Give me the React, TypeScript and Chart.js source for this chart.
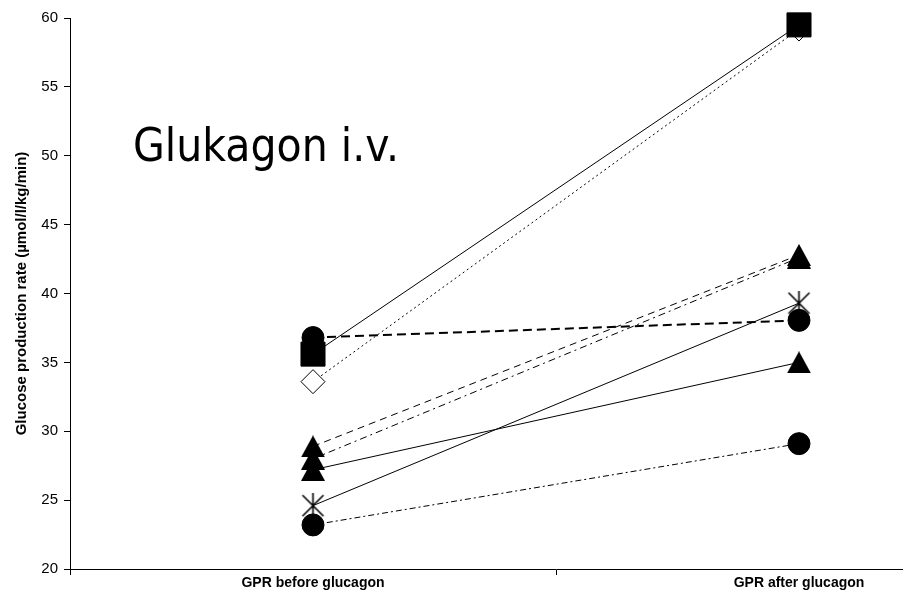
import React, { useEffect, useRef } from 'react';
import { Chart, registerables } from 'chart.js';

Chart.register(...registerables);

// ---- data ----
const categories = ['GPR before glucagon', 'GPR after glucagon'];
const squareSeries = [35.6, 59.5];
const diamondSeries = [33.6, 59.2];
const circleTopSeries = [36.8, 38.05];
const triangleDashSeries = [28.9, 42.8];
const triangleDashDotSeries = [28.0, 42.6];
const triangleSolidSeries = [27.2, 35.0];
const starSeries = [24.6, 39.3];
const circleBottomSeries = [23.2, 29.1];
const yMin = 20;
const yMax = 60;
const yStep = 5;
const yAxisTitle = 'Glucose production rate (µmol/l/kg/min)';
const chartTitle = 'Glukagon i.v.';

const SANS = '"Liberation Sans", Arial, sans-serif';

function makeTriangle(): HTMLCanvasElement {
  const c = document.createElement('canvas');
  c.width = 24;
  c.height = 22;
  const g = c.getContext('2d')!;
  g.fillStyle = '#000';
  g.beginPath();
  g.moveTo(12, 0);
  g.lineTo(24, 22);
  g.lineTo(0, 22);
  g.closePath();
  g.fill();
  return c;
}

function makeStar(): HTMLCanvasElement {
  const c = document.createElement('canvas');
  c.width = 25;
  c.height = 25;
  const g = c.getContext('2d')!;
  g.strokeStyle = '#000';
  g.lineWidth = 1.6;
  g.beginPath();
  g.moveTo(2, 2);
  g.lineTo(23, 23);
  g.moveTo(23, 2);
  g.lineTo(2, 23);
  g.moveTo(12.5, 0);
  g.lineTo(12.5, 25);
  g.stroke();
  return c;
}

const titlePlugin = {
  id: 'bigTitle',
  afterDraw(chart: any) {
    const ctx = chart.ctx;
    ctx.save();
    ctx.font = '46px "DejaVu Sans Condensed", "DejaVu Sans", sans-serif';
    ctx.fillStyle = '#000';
    ctx.textBaseline = 'alphabetic';
    ctx.textAlign = 'left';
    const w = ctx.measureText(chartTitle).width;
    const target = 266;
    ctx.translate(133, 161);
    ctx.scale(target / w, 1);
    ctx.fillText(chartTitle, 0, 0);
    ctx.restore();
  },
};

export default function App() {
  const ref = useRef<HTMLCanvasElement>(null);

  useEffect(() => {
    if (!ref.current) return;
    const tri = makeTriangle();
    const star = makeStar();
    const base = (data: number[], opts: any) => ({
      data,
      borderColor: '#000',
      backgroundColor: '#000',
      borderWidth: 1,
      pointBorderColor: '#000',
      pointBackgroundColor: '#000',
      pointBorderWidth: 1,
      fill: false,
      tension: 0,
      clip: false,
      borderCapStyle: 'butt',
      ...opts,
    });
    const chart = new Chart(ref.current, {
      type: 'line',
      data: {
        labels: categories,
        datasets: [
          base(squareSeries, { pointStyle: 'rect', pointRadius: 17 }),
          base(diamondSeries, {
            pointStyle: 'rectRot',
            pointRadius: 12,
            pointBackgroundColor: '#fff',
            borderDash: [2, 3],
          }),
          base(circleTopSeries, { pointStyle: 'circle', pointRadius: 11, borderWidth: 2, borderDash: [9, 5] }),
          base(triangleDashSeries, { pointStyle: tri, pointRadius: 12, borderDash: [7, 5] }),
          base(triangleDashDotSeries, { pointStyle: tri, pointRadius: 12, borderDash: [7, 4, 2, 4] }),
          base(triangleSolidSeries, { pointStyle: tri, pointRadius: 12 }),
          base(starSeries, { pointStyle: star, pointRadius: 12 }),
          base(circleBottomSeries, { pointStyle: 'circle', pointRadius: 11, borderDash: [6, 3, 2, 3] }),
        ],
      },
      options: {
        responsive: false,
        animation: false,
        events: [],
        layout: { padding: { top: 14, right: 16, left: 0, bottom: 0 } },
        plugins: { legend: { display: false }, tooltip: { enabled: false }, title: { display: false } },
        scales: {
          x: {
            type: 'category',
            offset: true,
            grid: { offset: true, drawOnChartArea: false, drawTicks: true, tickLength: 6, color: '#000', lineWidth: 1 },
            border: { color: '#000', width: 1 },
            ticks: {
              color: '#000',
              padding: 0,
              maxRotation: 0,
              font: { family: SANS, size: 14, weight: 'bold' },
            },
            afterFit: (s: any) => {
              s.height = 39;
            },
          },
          y: {
            min: yMin,
            max: yMax,
            ticks: {
              stepSize: yStep,
              color: '#000',
              padding: 6,
              font: { family: SANS, size: 15 },
            },
            grid: { drawOnChartArea: false, drawTicks: true, tickLength: 6, color: '#000', lineWidth: 1 },
            border: { color: '#000', width: 1 },
            title: {
              display: true,
              text: yAxisTitle,
              color: '#000',
              padding: { top: 13, bottom: 0 },
              font: { family: SANS, size: 15, weight: 'bold' },
            },
            afterFit: (s: any) => {
              s.width = 70;
            },
          },
        },
      },
      plugins: [titlePlugin],
    } as any);
    return () => chart.destroy();
  }, []);

  return (
    <div
      style={{
        position: 'fixed',
        left: 0,
        top: 0,
        width: 903,
        height: 608,
        overflow: 'hidden',
        background: '#fff',
      }}
    >
      <canvas ref={ref} width={1060} height={608} style={{ display: 'block', width: 1060, height: 608 }} />
    </div>
  );
}
